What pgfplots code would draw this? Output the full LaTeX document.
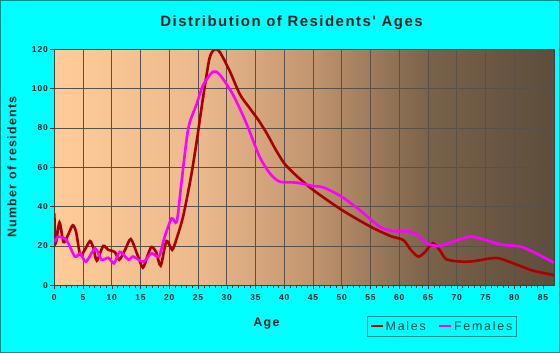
\documentclass[border=0pt]{standalone}
\usepackage{pgfplots}
\pgfplotsset{compat=1.18}
\usepackage{fontspec}
\setmainfont{Liberation Sans}
\newfontfamily\lsans{Liberation Sans}[LetterSpace=10]
\newfontfamily\lsansw{Liberation Sans}[LetterSpace=14]
\definecolor{bgcyan}{RGB}{0,255,255}
\definecolor{frame}{RGB}{0,140,140}
\definecolor{males}{RGB}{170,0,0}
\definecolor{females}{RGB}{255,0,255}
\definecolor{gridc}{RGB}{70,60,50}
\definecolor{txt}{RGB}{25,35,35}
\definecolor{legtxt}{RGB}{10,70,70}
\definecolor{sh0}{RGB}{255,204,153}
\definecolor{sh1}{RGB}{235,185,140}
\definecolor{sh2}{RGB}{195,150,112}
\definecolor{sh3}{RGB}{122,98,74}
\definecolor{sh4}{RGB}{92,77,60}
\pgfdeclarehorizontalshading{plotbg}{100bp}{color(0bp)=(sh0); color(25bp)=(sh0); color(39.5bp)=(sh1); color(50.5bp)=(sh2); color(62.5bp)=(sh3); color(75bp)=(sh4); color(100bp)=(sh4)}
\begin{document}
\begin{tikzpicture}
\path[fill=bgcyan, draw=frame, line width=1bp] (0.5bp,0.5bp) rectangle (559.5bp,352.5bp);
\begin{axis}[
  at={(54.3bp,67.7bp)}, anchor=south west,
  scale only axis, width=499.7bp, height=236bp,
  xmin=0, xmax=86.9, ymin=0, ymax=120,
  axis background/.style={shading=plotbg},
  xtick distance=5, ytick distance=20,
  minor x tick num=4,
  tick align=outside, xtick pos=bottom, ytick pos=left,
  major tick length=4bp, minor tick length=3bp,
  tick style={color=black!80, line width=0.6bp},
  grid=major, major grid style={color=gridc!90, line width=0.7bp},
  axis line style={color=black!75, line width=0.8bp},
  /pgf/number format/assume math mode=true,
  ticklabel style={font={\lsans\bfseries\fontsize{8.5}{10}\selectfont}, color=txt},
  xticklabel style={yshift=-2bp},
  yticklabel style={xshift=1bp},
  legend style={at={(0.626,-0.131)}, anchor=north west, draw=frame, line width=0.8bp, fill=none,
    legend columns=2, font={\lsansw\fontsize{12.5}{14}\selectfont}, text=legtxt,
    inner xsep=2bp, inner ysep=2.5bp,
    /tikz/every even column/.append style={column sep=10bp}},
  legend image code/.code={\draw[#1, line width=2.2bp] (0bp,0bp) -- (12bp,0bp);},
]
\addplot[color=males, line width=2.6bp, smooth, tension=0.45] coordinates {
(0,36.5) (0.25,21.5) (0.9,32) (1.6,22) (2.3,25) (3.2,30.5) (3.8,27) (4.5,15.5) (5.3,18)
(6.2,22.5) (6.8,19) (7.4,12.5) (8.5,20) (9.4,18) (10.5,17) (11.3,13) (12.3,18) (13.3,23.5)
(14.4,16) (15.4,9) (16.2,15) (16.9,19.5) (17.7,17) (18.5,10) (19.5,22.5) (20.5,18) (21.3,24)
(22.4,35) (23.7,54) (24.7,72) (25.9,96) (27,115.5) (27.9,120) (28.8,118.5) (30.5,109)
(32.3,97) (34,90) (35.5,84) (37,77) (38.5,69) (40,62) (42,56) (45,48.5) (50,38.3) (55,29.8)
(58.5,25) (60.7,23) (62,18) (63.3,14.6) (64.5,17) (65.8,21.4) (67,18) (68.2,13.2) (71,12)
(73,12.3) (76.9,13.9) (79.8,11.2) (83.2,7.5) (86.9,5.2)
};
\addlegendentry{Males}
\addplot[color=females, line width=2.6bp, smooth, tension=0.45] coordinates {
(0,22) (0.7,24.7) (2.1,23) (3.6,14.6) (4.5,16.3) (5.5,12) (7.1,18.8) (8.2,13) (9.4,14)
(10.4,11.2) (11.4,17) (12.9,13) (13.7,14.6) (15.5,12) (16.9,16.3) (18.2,14.6) (19.2,24.7)
(20.4,34) (21.3,32.4) (22.1,51.9) (23.3,79.8) (24.7,91.7) (25.9,101.9) (27.6,108.6)
(28.8,107) (31.1,96.8) (33.4,82.4) (35.7,65.4) (37.5,56.9) (39.2,52.7) (42.1,52.2) (45,50.5)
(46.8,49.8) (50,45) (53.1,38.3) (56.6,29.8) (58.9,27.6) (62.4,27) (64.7,21.4) (67,20)
(69.3,22.2) (72.2,24.7) (74.6,23.4) (77.5,20.8) (81,19.7) (83.2,17.1) (86.9,11.5)
};
\addlegendentry{Females}
\end{axis}
\node[font={\lsans\bfseries\fontsize{15}{18}\selectfont}, color=txt] at (291.5bp,330.5bp) {Distribution of Residents' Ages};
\node[font={\lsans\bfseries\fontsize{12.5}{15}\selectfont}, color=txt] at (266.5bp,29.5bp) {Age};
\node[font={\lsans\bfseries\fontsize{12.5}{15}\selectfont}, color=txt, rotate=90] at (12bp,186bp) {Number of residents};
\end{tikzpicture}
\end{document}
